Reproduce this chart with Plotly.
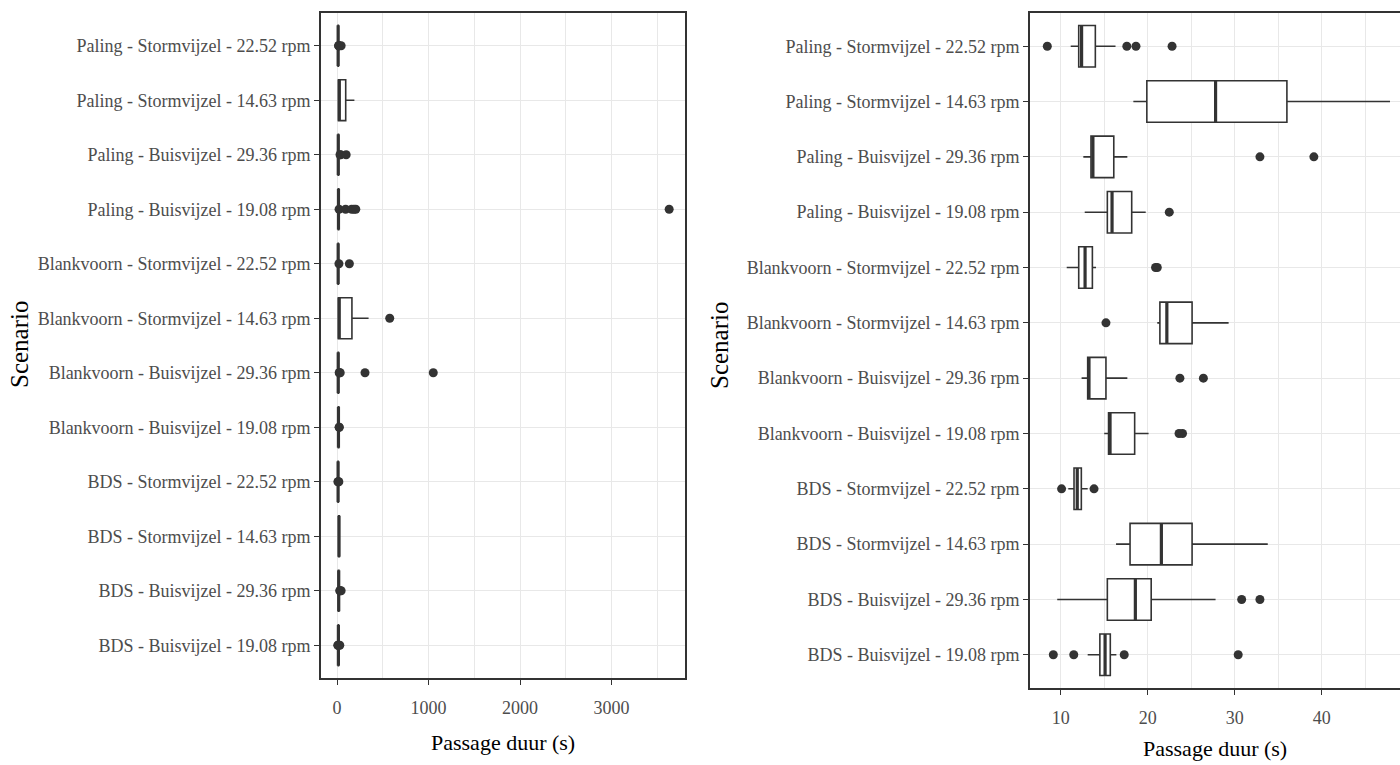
import plotly.graph_objects as go

# Scenarios, listed top to bottom as they appear on the axis
scenarios = [
    "Paling - Stormvijzel - 22.52 rpm",
    "Paling - Stormvijzel - 14.63 rpm",
    "Paling - Buisvijzel - 29.36 rpm",
    "Paling - Buisvijzel - 19.08 rpm",
    "Blankvoorn - Stormvijzel - 22.52 rpm",
    "Blankvoorn - Stormvijzel - 14.63 rpm",
    "Blankvoorn - Buisvijzel - 29.36 rpm",
    "Blankvoorn - Buisvijzel - 19.08 rpm",
    "BDS - Stormvijzel - 22.52 rpm",
    "BDS - Stormvijzel - 14.63 rpm",
    "BDS - Buisvijzel - 29.36 rpm",
    "BDS - Buisvijzel - 19.08 rpm",
]

# Left panel: all passages (s)
all_lower = [11.2, 9.0, 12.6, 12.8, 10.7, 10.0, 12.4, 15.0, 10.9, 16.4, 9.6, 13.1]
all_q1 = [12.1, 16.0, 13.5, 15.4, 12.1, 15.0, 13.1, 15.5, 11.5, 18.0, 15.4, 14.5]
all_median = [12.4, 25.0, 13.7, 15.9, 12.8, 24.0, 13.3, 15.7, 11.9, 21.6, 18.6, 15.1]
all_q3 = [14.0, 95.0, 16.1, 18.2, 13.6, 163.0, 15.2, 18.5, 12.4, 25.1, 20.4, 15.7]
all_upper = [16.3, 190.0, 17.7, 19.8, 14.1, 345.0, 17.7, 20.1, 13.1, 33.8, 27.8, 16.4]
all_outliers = [
    [17.6, 18.7, 22.8, 45.0],
    [],
    [32.9, 39.1, 100.0],
    [22.5, 94.0, 160.0, 185.0, 205.0, 3630.0],
    [21.0, 135.0],
    [576.0],
    [23.7, 26.4, 35.0, 306.0, 1052.0],
    [23.6, 24.0],
    [10.1, 13.8, 20.0],
    [],
    [30.8, 32.9, 45.0],
    [9.2, 11.5, 17.3, 30.4],
]

# Right panel: passages without extreme durations (s)
sel_lower = [11.15, 18.35, 12.6, 12.76, 10.69, 21.1, 12.4, 15.0, 10.87, 16.36, 9.6, 13.1]
sel_q1 = [12.07, 19.9, 13.48, 15.36, 12.07, 21.4, 13.1, 15.5, 11.53, 17.97, 15.36, 14.5]
sel_median = [12.4, 27.8, 13.7, 15.9, 12.8, 22.2, 13.25, 15.67, 11.9, 21.57, 18.58, 15.1]
sel_q3 = [13.98, 36.0, 16.1, 18.16, 13.64, 25.1, 15.2, 18.5, 12.37, 25.1, 20.4, 15.7]
sel_upper = [16.3, 47.85, 17.66, 19.77, 14.06, 29.3, 17.66, 20.1, 13.1, 33.8, 27.8, 16.4]
sel_outliers = [
    [8.46, 17.6, 18.65, 22.8],
    [],
    [32.9, 39.1],
    [22.48],
    [20.9, 21.1],
    [15.2],
    [23.7, 26.4],
    [23.6, 24.0],
    [10.1, 13.83],
    [],
    [30.8, 32.9],
    [9.15, 11.5, 17.3, 30.4],
]

W, H = 1400, 765
INK = "#333333"
GRID = "#E8E8E8"
SERIF = "Liberation Serif, Times New Roman, serif"

# panel rectangles in pixels: (left, right, top, bottom)
left_px = (321, 685, 13, 678)
right_px = (1030, 1400, 13, 688)
cat_range = [len(scenarios) - 0.4, -0.6]
BOX_FRAC = 0.75
# plotly draws a "line-ns" marker 1.4x its nominal size on each side
LINE_NS_SCALE = 1.4


def dom_x(p):
    return [p[0] / W, min(p[1] / W, 1.0)]


def dom_y(p):
    return [1 - p[3] / H, 1 - p[2] / H]


def box_height_px(p):
    span = cat_range[0] - cat_range[1]
    return BOX_FRAC * (p[3] - p[2]) / span


fig = go.Figure()


def add_panel(xa, ya, lower, q1, med, q3, upper, outliers, p):
    fig.add_trace(go.Box(
        y=scenarios, q1=q1, median=med, q3=q3,
        lowerfence=lower, upperfence=upper,
        orientation="h", xaxis=xa, yaxis=ya,
        fillcolor="white", line=dict(color=INK, width=1.6),
        whiskerwidth=0, boxpoints=False, showlegend=False,
    ))
    # thicker median bar spanning the box height
    fig.add_trace(go.Scatter(
        x=med, y=scenarios, mode="markers", xaxis=xa, yaxis=ya,
        marker=dict(symbol="line-ns", size=box_height_px(p) / LINE_NS_SCALE,
                    color=INK, line=dict(color=INK, width=3.2)),
        showlegend=False, hoverinfo="skip",
    ))
    ox, oy = [], []
    for name, vals in zip(scenarios, outliers):
        for v in vals:
            ox.append(v)
            oy.append(name)
    fig.add_trace(go.Scatter(
        x=ox, y=oy, mode="markers", xaxis=xa, yaxis=ya,
        marker=dict(size=9, color=INK, line=dict(width=0)),
        showlegend=False,
    ))


add_panel("x", "y", all_lower, all_q1, all_median, all_q3, all_upper, all_outliers, left_px)
add_panel("x2", "y2", sel_lower, sel_q1, sel_median, sel_q3, sel_upper, sel_outliers, right_px)

tick_font = dict(family=SERIF, size=18, color="#4D4D4D")

common_x = dict(
    showgrid=True, gridcolor=GRID, gridwidth=1.4, zeroline=False,
    ticks="outside", ticklen=5, tickwidth=1.4, tickcolor=INK,
    tickfont=tick_font, showline=True, linecolor=INK, linewidth=1.6,
    mirror=True, ticklabelstandoff=8,
)
common_y = dict(
    type="category", categoryorder="array", categoryarray=scenarios,
    range=cat_range, showgrid=True, gridcolor=GRID, gridwidth=1.4,
    zeroline=False, ticks="outside", ticklen=5, tickwidth=1.4,
    tickcolor=INK, tickfont=tick_font, showline=True, linecolor=INK,
    linewidth=1.6,
)

fig.update_layout(
    width=W, height=H,
    margin=dict(l=0, r=0, t=0, b=0),
    paper_bgcolor="white", plot_bgcolor="white",
    boxmode="overlay", boxgap=1 - BOX_FRAC, boxgroupgap=0,
    xaxis=dict(domain=dom_x(left_px), anchor="y", range=[-175, 3803],
               tick0=0, dtick=1000,
               minor=dict(dtick=500, showgrid=True, gridcolor=GRID, gridwidth=1.2),
               **common_x),
    yaxis=dict(domain=dom_y(left_px), anchor="x", mirror=True, **common_y),
    xaxis2=dict(domain=dom_x(right_px), anchor="y2", range=[6.47, 49.0],
                tick0=0, dtick=10,
                minor=dict(dtick=5, showgrid=True, gridcolor=GRID, gridwidth=1.2),
                **common_x),
    yaxis2=dict(domain=dom_y(right_px), anchor="x2", mirror=False, **common_y),
)

title_font = dict(family=SERIF, size=22, color="black")
fig.add_annotation(text="Passage duur (s)", x=503 / W, y=1 - 742 / H,
                   xref="paper", yref="paper", showarrow=False,
                   xanchor="center", yanchor="middle", font=title_font)
fig.add_annotation(text="Passage duur (s)", x=1215 / W, y=1 - 748 / H,
                   xref="paper", yref="paper", showarrow=False,
                   xanchor="center", yanchor="middle", font=title_font)
for xpos in (20, 720):
    fig.add_annotation(text="Scenario", x=xpos / W, y=1 - 345 / H,
                       xref="paper", yref="paper", showarrow=False,
                       textangle=-90, xanchor="center", yanchor="middle",
                       font=dict(family=SERIF, size=25, color="black"))

fig.write_html("out.html")
